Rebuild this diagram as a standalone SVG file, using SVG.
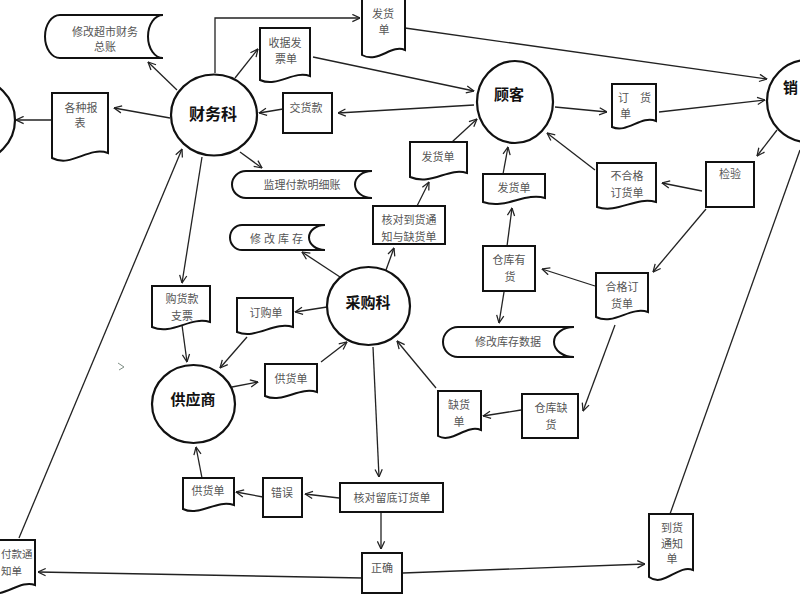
<svg xmlns="http://www.w3.org/2000/svg" width="800" height="600" viewBox="0 0 800 600">
<style>
.sh{fill:#fff;stroke:#111;stroke-width:2}
.c{fill:#fff;stroke:#111;stroke-width:2.2}
.t{font-family:"Noto Sans CJK SC","Liberation Serif",serif;font-size:11px;fill:#555;text-anchor:middle;dominant-baseline:central}
.b{font-family:"Noto Sans CJK SC","Liberation Sans",sans-serif;font-size:15px;font-weight:bold;fill:#111;text-anchor:middle;dominant-baseline:central}
.ln{fill:none;stroke:#222;stroke-width:1.3}
</style>
<defs>
<marker id="arr" viewBox="0 0 10 10" refX="9.5" refY="5" markerWidth="9" markerHeight="9" orient="auto" markerUnits="userSpaceOnUse">
<path d="M1,1 L9.5,5 L1,9" fill="none" stroke="#222" stroke-width="1.4"/>
</marker>
</defs>
<rect width="800" height="600" fill="#fff"/>
<g id="connectors">
<path class="ln" marker-end="url(#arr)" d="M177,90 L148,62"/>
<path class="ln" marker-end="url(#arr)" d="M170,118 L114,108"/>
<path class="ln" marker-end="url(#arr)" d="M52,120 L16,120"/>
<path class="ln" marker-end="url(#arr)" d="M235,78 L258,49"/>
<path class="ln" marker-end="url(#arr)" d="M215,73 V18 H360"/>
<path class="ln" marker-end="url(#arr)" d="M313,57 L474,91"/>
<path class="ln" marker-end="url(#arr)" d="M405,28 L767,79"/>
<path class="ln" marker-end="url(#arr)" d="M474,105 L338,113"/>
<path class="ln" marker-end="url(#arr)" d="M283,109 L259,113"/>
<path class="ln" marker-end="url(#arr)" d="M240,152 L262,168"/>
<path class="ln" marker-end="url(#arr)" d="M19,538 L182,149"/>
<path class="ln" marker-end="url(#arr)" d="M202,157 L182,283"/>
<path class="ln" marker-end="url(#arr)" d="M182,325 L187,362"/>
<path class="ln" marker-end="url(#arr)" d="M340,277 L302,252"/>
<path class="ln" marker-end="url(#arr)" d="M386,270 L394,248"/>
<path class="ln" marker-end="url(#arr)" d="M417,206 L429,182"/>
<path class="ln" marker-end="url(#arr)" d="M452,142 L477,119"/>
<path class="ln" marker-end="url(#arr)" d="M503,174 L508,147"/>
<path class="ln" marker-end="url(#arr)" d="M507,246 L512,208"/>
<path class="ln" marker-end="url(#arr)" d="M504,292 L499,323"/>
<path class="ln" marker-end="url(#arr)" d="M595,286 L542,269"/>
<path class="ln" marker-end="url(#arr)" d="M706,209 L653,272"/>
<path class="ln" marker-end="url(#arr)" d="M702,191 L662,183"/>
<path class="ln" marker-end="url(#arr)" d="M595,170 L547,133"/>
<path class="ln" marker-end="url(#arr)" d="M555,107 L607,112"/>
<path class="ln" marker-end="url(#arr)" d="M659,112 L765,100"/>
<path class="ln" marker-end="url(#arr)" d="M777,130 L757,156"/>
<path class="ln" d="M800,150 L670,514"/>
<path class="ln" marker-end="url(#arr)" d="M615,325 L583,411"/>
<path class="ln" marker-end="url(#arr)" d="M521,410 L483,416"/>
<path class="ln" marker-end="url(#arr)" d="M436,388 L397,341"/>
<path class="ln" marker-end="url(#arr)" d="M327,307 L295,312"/>
<path class="ln" marker-end="url(#arr)" d="M247,337 L220,368"/>
<path class="ln" marker-end="url(#arr)" d="M232,387 L258,382"/>
<path class="ln" marker-end="url(#arr)" d="M321,362 L347,342"/>
<path class="ln" marker-end="url(#arr)" d="M373,347 L379,477"/>
<path class="ln" marker-end="url(#arr)" d="M339,498 L305,494"/>
<path class="ln" marker-end="url(#arr)" d="M263,497 L236,492"/>
<path class="ln" marker-end="url(#arr)" d="M202,478 L196,447"/>
<path class="ln" marker-end="url(#arr)" d="M381,512 L381,549"/>
<path class="ln" marker-end="url(#arr)" d="M363,578 L38,572"/>
<path class="ln" marker-end="url(#arr)" d="M403,573 L645,564"/>
</g>
<g id="caiwuke"><ellipse class="c" cx="214" cy="115" rx="43" ry="40.5"/><text class="b" x="213" y="113" style="font-size:16px">财务科</text></g>
<g id="guke"><ellipse class="c" cx="515" cy="102" rx="38" ry="41"/><text class="b" x="509" y="93">顾客</text></g>
<g id="caigouke"><ellipse class="c" cx="368.5" cy="306" rx="41.5" ry="39"/><text class="b" x="368" y="301">采购科</text></g>
<g id="gongyingshang"><ellipse class="c" cx="193.5" cy="404" rx="41.5" ry="39"/><text class="b" x="193" y="398">供应商</text></g>
<g id="xiaoshou"><ellipse class="c" cx="808" cy="101" rx="41" ry="41"/><text class="b" x="783" y="86" style="text-anchor:start">销</text></g>
<g id="left-circle"><circle class="c" cx="-26" cy="120" r="41"/></g>
<g id="xiugai-zongzhang"><path class="sh" d="M163,15 H60 A15,21.5 0 0 0 60,58 H163 A15,21.5 0 0 1 163,15 Z"/><text class="t" x="105" y="31">修改超市财务</text><text class="t" x="105" y="46">总账</text></g>
<g id="gezhong-baobiao"><path class="sh" d="M52,93 H108 V153 C88,146 72,168 52,158 Z"/><text class="t" x="81" y="107">各种报</text><text class="t" x="80" y="122">表</text></g>
<g id="shouju-fapiao"><path class="sh" d="M260,28 H310 V76 C293,70 278,88 260,80 Z"/><text class="t" x="285" y="42">收据发</text><text class="t" x="286" y="58">票单</text></g>
<g id="fahuodan-top"><path class="sh" d="M362,-2 H405 V50 C391,44 378,64 362,55 Z"/><text class="t" x="383" y="13">发货</text><text class="t" x="384" y="29">单</text></g>
<g id="jiaohuokuan"><rect class="sh" x="283" y="93" width="49" height="40"/><text class="t" x="306" y="107">交货款</text></g>
<g id="jianli-mingxi"><path class="sh" d="M372,171 H246 A14,13.5 0 0 0 246,198 H372 A17,13.5 0 0 1 372,171 Z"/><text class="t" x="302" y="184">监理付款明细账</text></g>
<g id="xiugai-kucun"><path class="sh" d="M325,225 H242 A12,12.5 0 0 0 242,250 H325 A16,12.5 0 0 1 325,225 Z"/><text class="t" x="278" y="238" style="letter-spacing:3px">修改库存</text></g>
<g id="hedui-daohuo"><rect class="sh" x="373" y="206" width="72" height="38"/><text class="t" x="409" y="219">核对到货通</text><text class="t" x="409" y="236">知与缺货单</text></g>
<g id="fahuodan-mid"><path class="sh" d="M410,142 H467 V173 C448,167 432,186 410,177 Z"/><text class="t" x="438" y="156">发货单</text></g>
<g id="fahuodan-2"><path class="sh" d="M483,174 H545 V198 C525,192 505,210 483,202 Z"/><text class="t" x="514" y="187">发货单</text></g>
<g id="dinghuodan"><path class="sh" d="M612,84 H656 V121 C641,115 627,134 612,127 Z"/><text class="t" x="618" y="97" style="text-anchor:start">订　货</text><text class="t" x="620" y="113" style="text-anchor:start">单</text></g>
<g id="buhege"><path class="sh" d="M597,163 H656 V202 C636,196 618,214 597,207 Z"/><text class="t" x="627" y="175">不合格</text><text class="t" x="627" y="192">订货单</text></g>
<g id="jianyan"><rect class="sh" x="706" y="162" width="48" height="45"/><text class="t" x="730" y="173">检验</text></g>
<g id="cangku-youhuo"><rect class="sh" x="483" y="246" width="52" height="45"/><text class="t" x="509" y="259">仓库有</text><text class="t" x="510" y="276">货</text></g>
<g id="hege"><path class="sh" d="M596,273 H648 V312 C630,306 614,326 596,317 Z"/><text class="t" x="622" y="286">合格订</text><text class="t" x="622" y="303">货单</text></g>
<g id="xiugai-kucun-shuju"><path class="sh" d="M574,327 H458 A15,15 0 0 0 458,357 H574 A20,15 0 0 1 574,327 Z"/><text class="t" x="508" y="341">修改库存数据</text></g>
<g id="quehuodan"><path class="sh" d="M438,391 H481 V430 C466,424 452,444 438,436 Z"/><text class="t" x="459" y="404">缺货</text><text class="t" x="459" y="421">单</text></g>
<g id="cangku-quehuo"><rect class="sh" x="522" y="394" width="56" height="44"/><text class="t" x="551" y="407">仓库缺</text><text class="t" x="551" y="424">货</text></g>
<g id="gouhuokuan"><path class="sh" d="M152,286 H210 V322 C190,316 172,336 152,327 Z"/><text class="t" x="182" y="298">购货款</text><text class="t" x="182" y="315">支票</text></g>
<g id="dinggoudan"><path class="sh" d="M237,298 H293 V327 C274,321 256,340 237,332 Z"/><text class="t" x="266" y="312">订购单</text></g>
<g id="gonghuodan-r"><path class="sh" d="M265,364 H317 V392 C299,386 283,404 265,396 Z"/><text class="t" x="291" y="378">供货单</text></g>
<g id="hedui-liudi"><rect class="sh" x="340" y="483" width="103" height="29"/><text class="t" x="392" y="497">核对留底订货单</text></g>
<g id="cuowu"><rect class="sh" x="263" y="478" width="39" height="39"/><text class="t" x="282" y="492">错误</text></g>
<g id="gonghuodan-l"><path class="sh" d="M183,478 H234 V505 C216,499 200,517 183,509 Z"/><text class="t" x="208" y="490">供货单</text></g>
<g id="zhengque"><rect class="sh" x="362" y="553" width="40" height="40"/><text class="t" x="382" y="567">正确</text></g>
<g id="daohuo-tongzhi"><path class="sh" d="M649,514 H693 V570 C678,564 664,588 649,577 Z"/><text class="t" x="672" y="527">到货</text><text class="t" x="672" y="543">通知</text><text class="t" x="672" y="558">单</text></g>
<g id="fukuan-tongzhi"><path class="sh" d="M-15,540 H35 V585 C20,579 2,600 -15,592 Z"/><text class="t" x="1" y="553" style="text-anchor:start;font-size:10.5px">付款通</text><text class="t" x="1" y="570" style="text-anchor:start;font-size:10.5px">知单</text></g>
<path d="M118,363 L124,367 L119,370" fill="none" stroke="#7f8f86" stroke-width="1"/>
</svg>
